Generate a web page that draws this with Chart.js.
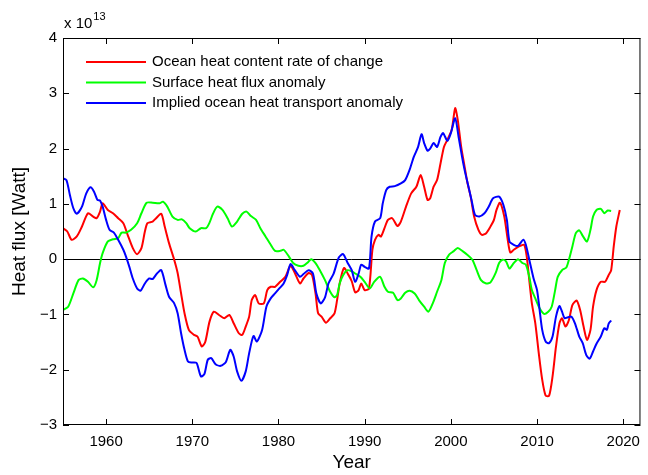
<!doctype html>
<html lang="en">
  <head>
    <meta charset="utf-8">
    <title>Heat flux</title>
    <style>
      * { margin: 0; padding: 0; }
      body { background: #fff; }
      .chartBox { width: 648px; height: 475px; }
    </style>
  </head>
  <body>
    <div class="chartBox">
      <canvas id="myChart" width="648" height="475"></canvas>
    </div>
    <script src="https://cdn.jsdelivr.net/npm/chart.js"></script>
    <script>
    // data (values in units of 10^13 W)
    const seriesNames = ['Ocean heat content rate of change', 'Surface heat flux anomaly', 'Implied ocean heat transport anomaly'];
    const seriesColors = ['#ff0000', '#00ff00', '#0000ff'];
    const xTicks = [1960, 1970, 1980, 1990, 2000, 2010, 2020];
    const yTicks = [-3, -2, -1, 0, 1, 2, 3, 4];

    const ohcYears = [1955.0,1955.5,1956.0,1956.6,1957.2,1957.9,1958.5,1958.9,1959.3,1959.6,1960.2,1960.8,1961.4,1962.0,1962.5,1963.1,1963.6,1964.1,1964.5,1964.8,1965.4,1965.8,1966.4,1966.8,1967.3,1967.9,1968.3,1968.7,1969.1,1969.6,1970.2,1970.6,1971.1,1971.5,1972.0,1972.5,1973.1,1973.7,1974.3,1974.8,1975.4,1975.8,1976.2,1976.6,1976.9,1977.3,1977.7,1978.3,1978.7,1979.1,1979.6,1980.2,1980.8,1981.4,1981.9,1982.5,1982.9,1983.5,1983.9,1984.3,1984.6,1985.0,1985.5,1986.0,1986.5,1986.8,1987.1,1987.6,1988.1,1988.5,1988.9,1989.3,1989.6,1990.0,1990.5,1990.9,1991.2,1991.6,1991.9,1992.3,1992.7,1993.2,1993.8,1994.2,1994.8,1995.4,1996.0,1996.5,1996.9,1997.3,1997.6,1998.0,1998.4,1998.8,1999.2,1999.6,2000.1,2000.5,2000.8,2001.2,2001.6,2001.9,2002.3,2002.7,2003.2,2003.6,2004.1,2004.6,2005.0,2005.3,2005.7,2006.2,2006.6,2006.9,2007.3,2007.9,2008.5,2008.8,2009.1,2009.4,2009.8,2010.2,2010.6,2011.0,2011.4,2011.8,2012.2,2012.6,2012.9,2013.3,2013.7,2014.1,2014.6,2015.0,2015.4,2015.8,2016.2,2016.5,2016.9,2017.4,2017.9,2018.3,2018.6,2018.9,2019.2,2019.6];
    const ohcValues = [0.56,0.50,0.35,0.41,0.59,0.83,0.77,0.74,0.86,1.01,0.89,0.83,0.74,0.65,0.44,0.20,0.09,0.20,0.50,0.65,0.68,0.74,0.82,0.59,0.29,-0.01,-0.25,-0.62,-0.98,-1.28,-1.37,-1.40,-1.58,-1.50,-1.13,-0.95,-1.01,-1.07,-1.01,-1.16,-1.34,-1.37,-1.22,-1.04,-0.74,-0.65,-0.80,-0.80,-0.56,-0.50,-0.50,-0.41,-0.32,-0.12,-0.25,-0.44,-0.35,-0.25,-0.29,-0.62,-0.98,-1.04,-1.15,-1.07,-0.98,-0.74,-0.44,-0.16,-0.28,-0.40,-0.60,-0.56,-0.44,-0.56,-0.53,0.17,0.35,0.44,0.41,0.56,0.71,0.74,0.60,0.68,0.95,1.19,1.31,1.52,1.31,1.07,1.10,1.31,1.43,1.73,2.03,2.16,2.34,2.73,2.52,2.03,1.67,1.40,1.13,0.77,0.53,0.44,0.47,0.59,0.71,0.89,1.02,0.77,0.35,0.12,0.17,0.23,0.26,0.05,-0.38,-0.80,-1.16,-1.70,-2.18,-2.47,-2.47,-2.12,-1.58,-1.16,-1.07,-1.22,-1.10,-0.83,-0.75,-0.92,-1.22,-1.46,-1.28,-0.86,-0.56,-0.41,-0.41,-0.29,-0.20,0.23,0.59,0.89];

    const sfxYears = [1955.0,1955.6,1956.2,1956.8,1957.3,1957.9,1958.5,1958.9,1959.3,1959.6,1960.2,1960.8,1961.4,1961.8,1962.3,1962.9,1963.6,1964.1,1964.7,1965.4,1966.2,1966.6,1967.1,1967.7,1968.3,1968.8,1969.3,1969.7,1970.4,1971.0,1971.6,1972.0,1972.4,1972.9,1973.5,1974.1,1974.6,1975.2,1975.8,1976.3,1976.8,1977.4,1977.9,1978.5,1979.1,1979.6,1980.2,1980.6,1981.2,1981.7,1982.3,1982.9,1983.4,1983.8,1984.3,1984.8,1985.4,1986.0,1986.5,1986.8,1987.1,1987.5,1988.0,1988.5,1988.9,1989.5,1990.0,1990.6,1991.1,1991.8,1992.3,1992.7,1993.3,1993.8,1994.2,1994.7,1995.2,1995.8,1996.3,1996.9,1997.4,1997.9,1998.4,1998.9,1999.3,1999.8,2000.3,2000.8,2001.4,2001.9,2002.5,2003.0,2003.5,2004.1,2004.6,2005.2,2005.6,2006.0,2006.4,2006.8,2007.3,2007.8,2008.3,2008.7,2009.1,2009.4,2009.8,2010.3,2010.8,2011.3,2011.7,2012.1,2012.4,2012.9,2013.4,2013.7,2014.1,2014.5,2014.9,2015.3,2015.8,2016.2,2016.5,2016.9,2017.4,2017.8,2018.2,2018.6];
    const sfxValues = [-0.92,-0.86,-0.62,-0.38,-0.35,-0.41,-0.51,-0.38,-0.07,0.11,0.32,0.36,0.38,0.48,0.48,0.53,0.65,0.83,1.02,1.02,1.01,1.04,0.95,0.77,0.71,0.72,0.65,0.56,0.50,0.56,0.56,0.66,0.82,0.95,0.89,0.74,0.59,0.68,0.82,0.86,0.78,0.71,0.56,0.41,0.26,0.15,0.15,0.17,0.05,-0.07,-0.12,-0.12,-0.06,0.00,-0.07,-0.20,-0.38,-0.59,-0.69,-0.65,-0.44,-0.29,-0.20,-0.22,-0.26,-0.32,-0.41,-0.53,-0.41,-0.32,-0.50,-0.59,-0.61,-0.74,-0.71,-0.61,-0.57,-0.62,-0.74,-0.86,-0.95,-0.80,-0.59,-0.38,-0.07,0.08,0.14,0.20,0.14,0.08,-0.01,-0.20,-0.38,-0.44,-0.42,-0.25,-0.07,-0.01,-0.04,-0.17,-0.07,0.00,-0.07,-0.10,-0.32,-0.56,-0.71,-0.89,-0.99,-0.95,-0.86,-0.56,-0.32,-0.20,-0.15,-0.01,0.23,0.47,0.52,0.42,0.32,0.53,0.77,0.89,0.91,0.83,0.88,0.87];

    const ohtYears = [1955.0,1955.4,1955.8,1956.2,1956.6,1957.2,1957.7,1958.2,1958.6,1959.0,1959.3,1959.6,1960.0,1960.4,1960.9,1961.4,1962.0,1962.3,1962.7,1963.1,1963.6,1964.0,1964.5,1965.0,1965.4,1965.9,1966.4,1966.9,1967.3,1967.9,1968.3,1968.7,1969.1,1969.5,1970.0,1970.5,1971.0,1971.4,1971.8,1972.2,1972.7,1973.3,1973.9,1974.4,1974.8,1975.2,1975.7,1976.2,1976.6,1977.1,1977.5,1978.1,1978.6,1979.1,1979.6,1980.1,1980.6,1981.0,1981.4,1981.9,1982.5,1982.9,1983.5,1984.0,1984.4,1984.9,1985.4,1985.8,1986.4,1987.0,1987.5,1988.0,1988.5,1988.9,1989.3,1989.6,1990.0,1990.5,1990.8,1991.2,1991.8,1992.1,1992.5,1992.9,1993.5,1994.2,1994.7,1995.2,1995.7,1996.2,1996.6,1996.9,1997.3,1997.6,1998.0,1998.4,1998.8,1999.1,1999.6,2000.0,2000.5,2000.9,2001.3,2001.6,2002.0,2002.4,2002.8,2003.3,2003.9,2004.4,2004.9,2005.6,2006.1,2006.5,2006.8,2007.3,2007.8,2008.4,2008.7,2009.1,2009.6,2010.0,2010.3,2010.6,2011.0,2011.4,2011.8,2012.2,2012.6,2012.9,2013.2,2013.6,2014.0,2014.4,2014.9,2015.3,2015.7,2016.1,2016.5,2016.9,2017.4,2017.8,2018.1,2018.3,2018.6];
    const ohtValues = [1.46,1.43,1.16,0.92,0.82,0.95,1.19,1.30,1.22,1.07,1.06,0.95,0.71,0.53,0.48,0.35,0.17,0.05,-0.14,-0.35,-0.53,-0.57,-0.44,-0.35,-0.36,-0.26,-0.20,-0.47,-0.68,-0.80,-0.98,-1.34,-1.64,-1.85,-1.87,-1.88,-2.12,-2.08,-1.82,-1.79,-1.90,-1.93,-1.86,-1.64,-1.76,-2.03,-2.20,-2.03,-1.70,-1.39,-1.49,-1.28,-0.86,-0.71,-0.62,-0.53,-0.44,-0.29,-0.09,-0.20,-0.32,-0.27,-0.20,-0.26,-0.62,-0.80,-0.69,-0.44,-0.26,0.03,0.09,-0.06,-0.20,-0.41,-0.26,-0.10,-0.14,-0.17,0.41,0.68,0.74,1.01,1.25,1.31,1.32,1.37,1.43,1.61,1.85,2.03,2.26,2.10,1.96,2.00,2.10,2.03,2.21,2.28,2.14,2.28,2.55,2.21,1.85,1.61,1.34,1.07,0.80,0.77,0.83,0.95,1.10,1.13,0.98,0.71,0.32,0.26,0.24,0.35,0.26,-0.01,-0.35,-0.56,-0.92,-1.28,-1.49,-1.52,-1.40,-1.04,-0.85,-0.95,-1.07,-1.05,-1.04,-1.16,-1.40,-1.52,-1.73,-1.80,-1.67,-1.53,-1.40,-1.25,-1.28,-1.17,-1.11];

    const toPoints = (xs, ys) => xs.map((x, i) => ({ x: x, y: ys[i] }));
    const seriesData = [toPoints(ohcYears, ohcValues), toPoints(sfxYears, sfxValues), toPoints(ohtYears, ohtValues)];

    const FONT = "'Liberation Sans', Arial, Helvetica, sans-serif";

    // box, inward ticks, exponent label and legend, MATLAB style
    const matlabAxes = {
      id: 'matlabAxes',
      afterDatasetsDraw(chart) {
        const { ctx, chartArea: a, scales: { x, y } } = chart;
        ctx.save();
        ctx.strokeStyle = '#000';
        ctx.lineWidth = 1;
        ctx.strokeRect(a.left + 0.5, a.top + 0.5, a.right - a.left - 1, a.bottom - a.top - 1);
        const tl = 6;
        ctx.beginPath();
        x.ticks.forEach(t => {
          const px = Math.round(x.getPixelForValue(t.value)) + 0.5;
          ctx.moveTo(px, a.bottom); ctx.lineTo(px, a.bottom - tl);
          ctx.moveTo(px, a.top); ctx.lineTo(px, a.top + tl);
        });
        y.ticks.forEach(t => {
          const py = Math.round(y.getPixelForValue(t.value)) + 0.5;
          ctx.moveTo(a.left, py); ctx.lineTo(a.left + tl, py);
          ctx.moveTo(a.right, py); ctx.lineTo(a.right - tl, py);
        });
        ctx.stroke();

        // exponent
        ctx.fillStyle = '#000';
        ctx.textBaseline = 'alphabetic';
        ctx.textAlign = 'left';
        ctx.font = '15px ' + FONT;
        ctx.fillText('x 10', a.left + 1, a.top - 10);
        const w = ctx.measureText('x 10').width;
        ctx.font = '11px ' + FONT;
        ctx.fillText('13', a.left + 2 + w, a.top - 18);

        // legend
        ctx.font = '15px ' + FONT;
        ctx.textBaseline = 'middle';
        ctx.lineWidth = 2;
        chart.data.datasets.forEach((ds, i) => {
          const ly = a.top + 24 + i * 20.5;
          ctx.strokeStyle = ds.borderColor;
          ctx.beginPath();
          ctx.moveTo(a.left + 23, ly);
          ctx.lineTo(a.left + 83, ly);
          ctx.stroke();
          ctx.fillText(ds.label, a.left + 89, ly);
        });
        ctx.restore();
      }
    };

    const data = {
      datasets: seriesNames.map((name, i) => ({
        label: name,
        data: seriesData[i],
        borderColor: seriesColors[i],
        borderWidth: 2,
        pointRadius: 0,
        tension: 0.25,
        fill: false,
        order: 3 - i
      }))
    };

    const config = {
      type: 'line',
      data,
      options: {
        responsive: false,
        animation: false,
        layout: { padding: { top: 38, right: 3, bottom: 0, left: 0 } },
        plugins: { legend: { display: false }, tooltip: { enabled: false } },
        scales: {
          x: {
            type: 'linear',
            min: 1955,
            max: 2022,
            afterBuildTicks: s => { s.ticks = xTicks.map(v => ({ value: v })); },
            afterFit: s => { s.height = 50; },
            grid: { display: false, drawTicks: false },
            border: { display: false },
            ticks: {
              color: '#000',
              padding: 8,
              maxRotation: 0,
              font: { family: FONT, size: 15 },
              callback: v => String(v)
            },
            title: {
              display: true,
              text: 'Year',
              color: '#000',
              font: { family: FONT, size: 19 },
              padding: { top: 0, bottom: 1 }
            }
          },
          y: {
            min: -3,
            max: 4,
            afterBuildTicks: s => { s.ticks = yTicks.map(v => ({ value: v })); },
            afterFit: s => { s.width = 63; },
            grid: {
              drawTicks: false,
              color: c => (c.tick && c.tick.value === 0 ? '#000' : 'rgba(0,0,0,0)'),
              lineWidth: 1
            },
            border: { display: false },
            ticks: {
              color: '#000',
              padding: 6,
              font: { family: FONT, size: 15 },
              callback: v => (v < 0 ? '\u2212' + Math.abs(v) : String(v))
            },
            title: {
              display: true,
              text: 'Heat flux [Watt]',
              color: '#000',
              font: { family: FONT, size: 19 },
              padding: { top: 8, bottom: 0 }
            }
          }
        }
      },
      plugins: [matlabAxes]
    };

    const myChart = new Chart(document.getElementById('myChart'), config);
    </script>
  </body>
</html>
